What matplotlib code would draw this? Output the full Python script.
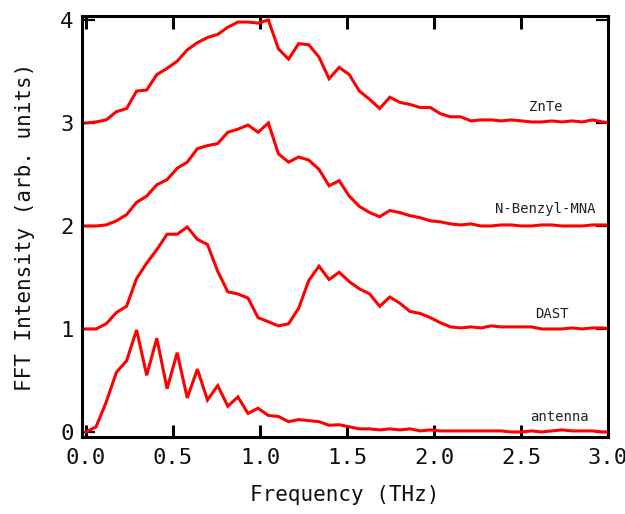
import matplotlib
matplotlib.use("Agg")
import matplotlib.pyplot as plt

freq = [0.000, 0.058, 0.116, 0.175, 0.233, 0.291, 0.349, 0.407, 0.466, 0.524,
        0.582, 0.640, 0.698, 0.757, 0.815, 0.873, 0.931, 0.989, 1.048, 1.106,
        1.164, 1.222, 1.280, 1.339, 1.397, 1.455, 1.513, 1.571, 1.630, 1.688,
        1.746, 1.804, 1.862, 1.921, 1.979, 2.037, 2.095, 2.153, 2.212, 2.270,
        2.328, 2.386, 2.444, 2.503, 2.561, 2.619, 2.677, 2.735, 2.794, 2.852,
        2.910, 2.968, 3.026]

znte = [3.00, 3.01, 3.03, 3.11, 3.14, 3.31, 3.32, 3.47, 3.53, 3.60, 3.71, 3.78, 3.83,
        3.86, 3.93, 3.98, 3.98, 3.97, 4.00,
        3.72, 3.62, 3.77, 3.76, 3.64, 3.43, 3.54, 3.47, 3.31, 3.23, 3.14, 3.25, 3.20,
        3.18, 3.15, 3.15, 3.09, 3.06,
        3.06, 3.02, 3.03, 3.03, 3.02, 3.03, 3.02, 3.01, 3.01, 3.02, 3.01, 3.02, 3.01,
        3.03, 3.01, 3.00]

nbenzyl = [2.00, 2.00, 2.01, 2.05, 2.11, 2.23, 2.29, 2.40, 2.45, 2.56, 2.62, 2.75, 2.78,
           2.80, 2.91, 2.94, 2.98, 2.91, 3.00,
           2.70, 2.62, 2.67, 2.64, 2.55, 2.39, 2.44, 2.29, 2.19, 2.13, 2.09, 2.15, 2.13,
           2.10, 2.08, 2.05, 2.04, 2.02,
           2.01, 2.02, 2.00, 2.00, 2.01, 2.01, 2.00, 2.00, 2.01, 2.01, 2.00, 2.00, 2.00,
           2.01, 2.01, 2.01]

dast = [1.00, 1.00, 1.05, 1.16, 1.22, 1.49, 1.64, 1.77, 1.92, 1.92, 1.99, 1.87, 1.82,
        1.56, 1.36, 1.34, 1.30, 1.11, 1.07,
        1.03, 1.05, 1.20, 1.47, 1.61, 1.48, 1.55, 1.46, 1.39, 1.34, 1.22, 1.31, 1.25,
        1.17, 1.15, 1.11, 1.06, 1.02,
        1.01, 1.02, 1.01, 1.03, 1.02, 1.02, 1.02, 1.02, 1.00, 1.00, 1.00, 1.01, 1.00,
        1.01, 1.01, 1.00]

antenna = [0.00, 0.05, 0.29, 0.58, 0.69, 0.99, 0.55, 0.91, 0.42, 0.77, 0.33, 0.61, 0.31,
           0.45, 0.25, 0.34, 0.18, 0.23, 0.16,
           0.15, 0.10, 0.12, 0.11, 0.10, 0.065, 0.07, 0.05, 0.03, 0.03, 0.02, 0.03, 0.02,
           0.03, 0.01, 0.02, 0.01, 0.01,
           0.01, 0.01, 0.01, 0.01, 0.01, 0.00, 0.00, 0.01, 0.00, 0.01, 0.02, 0.01, 0.01,
           0.01, 0.00, 0.00]

labels = ["ZnTe", "N-Benzyl-MNA", "DAST", "antenna"]
label_x = [2.64, 2.64, 2.68, 2.72]
label_y = [3.16, 2.165, 1.146, 0.146]

xticks = [0.0, 0.5, 1.0, 1.5, 2.0, 2.5, 3.0]
xticklabels = ["0.0", "0.5", "1.0", "1.5", "2.0", "2.5", "3.0"]
yticks = [0, 1, 2, 3, 4]

plt.rcParams['font.family'] = ['DejaVu Sans Mono', 'DejaVu Sans']

fig = plt.figure(figsize=(6.25, 5.14), dpi=100)
ax = fig.add_axes([0.1312, 0.1498, 0.8416, 0.8191])

for series in (znte, nbenzyl, dast, antenna):
    ax.plot(freq, series, color='#ff0000', linewidth=2.2, solid_joinstyle='miter')

for lab, lx, ly in zip(labels, label_x, label_y):
    ax.text(lx, ly, lab, ha='center', va='center', fontsize=10, color='#222222')

ax.set_xlim(-0.023, 3.0)
ax.set_ylim(-0.049, 4.039)
ax.set_xticks(xticks)
ax.set_xticklabels(xticklabels)
ax.set_yticks(yticks)

for sp in ax.spines.values():
    sp.set_linewidth(2.2)

ax.tick_params(axis='x', direction='in', top=True, length=9, width=2.2,
               labelsize=16, pad=8, labelcolor='#111111')
ax.tick_params(axis='y', direction='in', right=True, length=9, width=1.6,
               labelsize=16, pad=6, labelcolor='#111111')

ax.set_xlabel("Frequency (THz)", fontsize=15, labelpad=12, color='#111111')
ax.set_ylabel("FFT Intensity (arb. units)", fontsize=15, labelpad=18, color='#111111')

fig.savefig("out.png", dpi=100)
